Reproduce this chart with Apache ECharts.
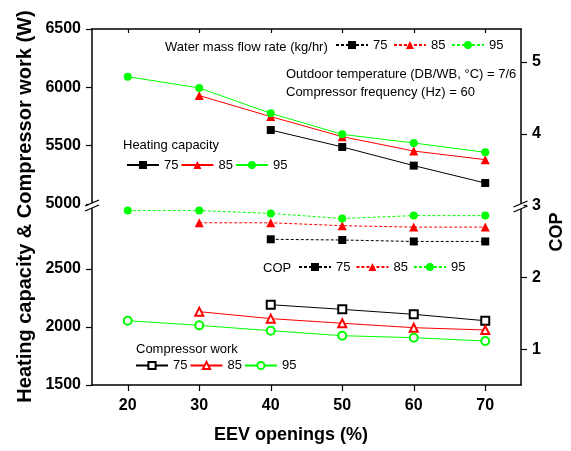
<!DOCTYPE html>
<html><head><meta charset="utf-8">
<script src="https://cdn.jsdelivr.net/npm/echarts@6/dist/echarts.min.js"></script>
<style>html,body{margin:0;padding:0;background:#fff}#c{width:571px;height:451px}</style>
</head><body><div id="c"></div>
<script>
// ---- data ----
const openings = [20, 30, 40, 50, 60, 70];
const flowRates = ['75', '85', '95'];
const heating75 = [null, null, 5634, 5489, 5329, 5180];
const heating85 = [null, 5929, 5749, 5577, 5454, 5380];
const heating95 = [6091, 5995, 5777, 5597, 5523, 5443];
const cop75 = [null, null, 2.53, 2.52, 2.50, 2.50];
const cop85 = [null, 2.76, 2.76, 2.72, 2.70, 2.70];
const cop95 = [2.93, 2.93, 2.89, 2.82, 2.86, 2.86];
const work75 = [null, null, 2192, 2152, 2109, 2054];
const work85 = [null, 2132, 2072, 2032, 1994, 1974];
const work95 = [2054, 2014, 1968, 1925, 1908, 1879];
const xTicks = [20, 30, 40, 50, 60, 70];
const heatTicks = [5000, 5500, 6000, 6500];
const workTicks = [1500, 2000, 2500];
const copTicks = [1, 2, 3, 4, 5];

// ---- styles ----
const FONT = '"Liberation Sans", Arial, sans-serif';
const colors = { '75': '#000000', '85': '#ff0000', '95': '#00ff00' };
const filled = { '75': 'rect', '85': 'triangle', '95': 'circle' };
const empty = { '75': 'emptyRect', '85': 'emptyTriangle', '95': 'emptyCircle' };
const fsize = { '75': 8, '85': 9, '95': 8 };

function pairs(vals) {
  const out = [];
  vals.forEach((v, i) => { if (v !== null) out.push([openings[i], v]); });
  return out;
}

const heatData = { '75': heating75, '85': heating85, '95': heating95 };
const copData = { '75': cop75, '85': cop85, '95': cop95 };
const workData = { '75': work75, '85': work85, '95': work95 };

const series = [];
flowRates.forEach(f => {
  series.push({
    name: 'HC ' + f, type: 'line', xAxisIndex: 2, yAxisIndex: 2,
    data: pairs(heatData[f]), symbol: filled[f], symbolSize: fsize[f],
    lineStyle: { color: colors[f], width: 1 }, itemStyle: { color: colors[f] },
    z: 3
  });
});
flowRates.forEach(f => {
  series.push({
    name: 'COP ' + f, type: 'line', xAxisIndex: 0, yAxisIndex: 1,
    data: pairs(copData[f]), symbol: filled[f], symbolSize: fsize[f],
    lineStyle: { color: colors[f], width: 1, type: [3, 2] }, itemStyle: { color: colors[f] },
    z: 3
  });
});
flowRates.forEach(f => {
  series.push({
    name: 'CW ' + f, type: 'line', xAxisIndex: 3, yAxisIndex: 3,
    data: pairs(workData[f]), symbol: empty[f], symbolSize: 8,
    lineStyle: { color: colors[f], width: 1 }, itemStyle: { color: colors[f], borderWidth: 1 },
    z: 3
  });
});

const axisLine = { show: true, lineStyle: { color: '#000', width: 1.5 } };
const tickLabel = { color: '#000', fontFamily: FONT, fontWeight: 'bold', fontSize: 16, formatter: v => String(v) };

function legend(names, left, top, gap, h) {
  return {
    data: names, left: left, top: top, orient: 'horizontal', padding: 0,
    itemWidth: 32, itemHeight: h || 10, itemGap: gap, selectedMode: false,
    textStyle: { fontSize: 13, color: '#000', fontFamily: FONT },
    formatter: n => n.split(' ')[1]
  };
}

function txt(x, y, text, opts) {
  opts = opts || {};
  return {
    type: 'text', x: x, y: y, rotation: opts.rot || 0, z: 50,
    style: {
      text: text, fill: '#000', align: opts.align || 'left', verticalAlign: 'middle',
      font: (opts.weight || 'normal') + ' ' + (opts.size || 13) + 'px ' + FONT
    }
  };
}

function breakMark(cx, cy) {
  return [
    { type: 'rect', z: 60, shape: { x: cx - 3, y: cy - 2, width: 6, height: 5 }, style: { fill: '#fff' } },
    { type: 'line', z: 61, shape: { x1: cx - 7, y1: cy + 1, x2: cx + 7, y2: cy - 5 }, style: { stroke: '#000', lineWidth: 1.3 } },
    { type: 'line', z: 61, shape: { x1: cx - 7, y1: cy + 6, x2: cx + 7, y2: cy }, style: { stroke: '#000', lineWidth: 1.3 } }
  ];
}

const option = {
  animation: false,
  backgroundColor: '#fff',
  grid: [
    { left: 92, right: 50, top: 29, bottom: 66, outerBoundsMode: 'none' },
    { left: 92, right: 50, top: 29, height: 175, outerBoundsMode: 'none' },
    { left: 92, right: 50, top: 204, bottom: 66, outerBoundsMode: 'none' }
  ],
  xAxis: [
    { gridIndex: 0, type: 'value', min: 15, max: 75, position: 'bottom',
      axisLine: axisLine, splitLine: { show: false },
      axisTick: { show: true, customValues: xTicks, length: 6, lineStyle: { color: '#000', width: 1.2 } },
      axisLabel: Object.assign({ customValues: xTicks, margin: 13 }, tickLabel) },
    { gridIndex: 0, type: 'value', min: 15, max: 75, position: 'top',
      axisLine: axisLine, splitLine: { show: false },
      axisTick: { show: true, inside: true, customValues: xTicks, length: 4, lineStyle: { color: '#000', width: 1.2 } },
      axisLabel: { show: false } },
    { gridIndex: 1, type: 'value', min: 15, max: 75, show: false },
    { gridIndex: 2, type: 'value', min: 15, max: 75, show: false }
  ],
  yAxis: [
    { gridIndex: 0, type: 'value', min: 0, max: 1, show: false },
    { gridIndex: 0, type: 'value', min: 0.5, max: 5.46, position: 'right',
      axisLine: axisLine, splitLine: { show: false },
      axisTick: { show: true, customValues: copTicks, length: 6, lineStyle: { color: '#000', width: 1.2 } },
      axisLabel: Object.assign({ customValues: copTicks, margin: 11 }, tickLabel) },
    { gridIndex: 1, type: 'value', min: 5000, max: 6500, interval: 500, position: 'left',
      axisLine: axisLine, splitLine: { show: false },
      axisTick: { show: true, length: 6, lineStyle: { color: '#000', width: 1.2 } },
      axisLabel: Object.assign({ margin: 11 }, tickLabel) },
    { gridIndex: 2, type: 'value', min: 1500, max: 3060, position: 'left',
      axisLine: axisLine, splitLine: { show: false },
      axisTick: { show: true, customValues: workTicks, length: 6, lineStyle: { color: '#000', width: 1.2 } },
      axisLabel: Object.assign({ customValues: workTicks, margin: 11 }, tickLabel) }
  ],
  legend: [
    legend(['COP 75', 'COP 85', 'COP 95'], 335, 38.5, 5.5),
    legend(['HC 75', 'HC 85', 'HC 95'], 126, 158.5, 2),
    legend(['COP 75', 'COP 85', 'COP 95'], 298, 260.5, 5),
    legend(['CW 75', 'CW 85', 'CW 95'], 135, 359, 2, 9)
  ],
  graphic: [
    txt(165, 47, 'Water mass flow rate (kg/hr)'),
    txt(286, 74, 'Outdoor temperature (DB/WB, °C) = 7/6'),
    txt(286, 92, 'Compressor frequency (Hz) = 60'),
    txt(123, 145, 'Heating capacity'),
    txt(263, 268, 'COP'),
    txt(136, 349, 'Compressor work'),
    txt(291, 435, 'EEV openings (%)', { align: 'center', weight: 'bold', size: 18 }),
    txt(25, 206.5, 'Heating capacity & Compressor work (W)', { align: 'center', weight: 'bold', size: 20, rot: Math.PI / 2 }),
    txt(557, 232, 'COP', { align: 'center', weight: 'bold', size: 18, rot: Math.PI / 2 })
  ].concat(breakMark(92, 205)).concat(breakMark(520.5, 206)),
  series: series
};

const chart = echarts.init(document.getElementById('c'), null, { renderer: 'canvas' });
chart.setOption(option);
</script>
</body></html>
